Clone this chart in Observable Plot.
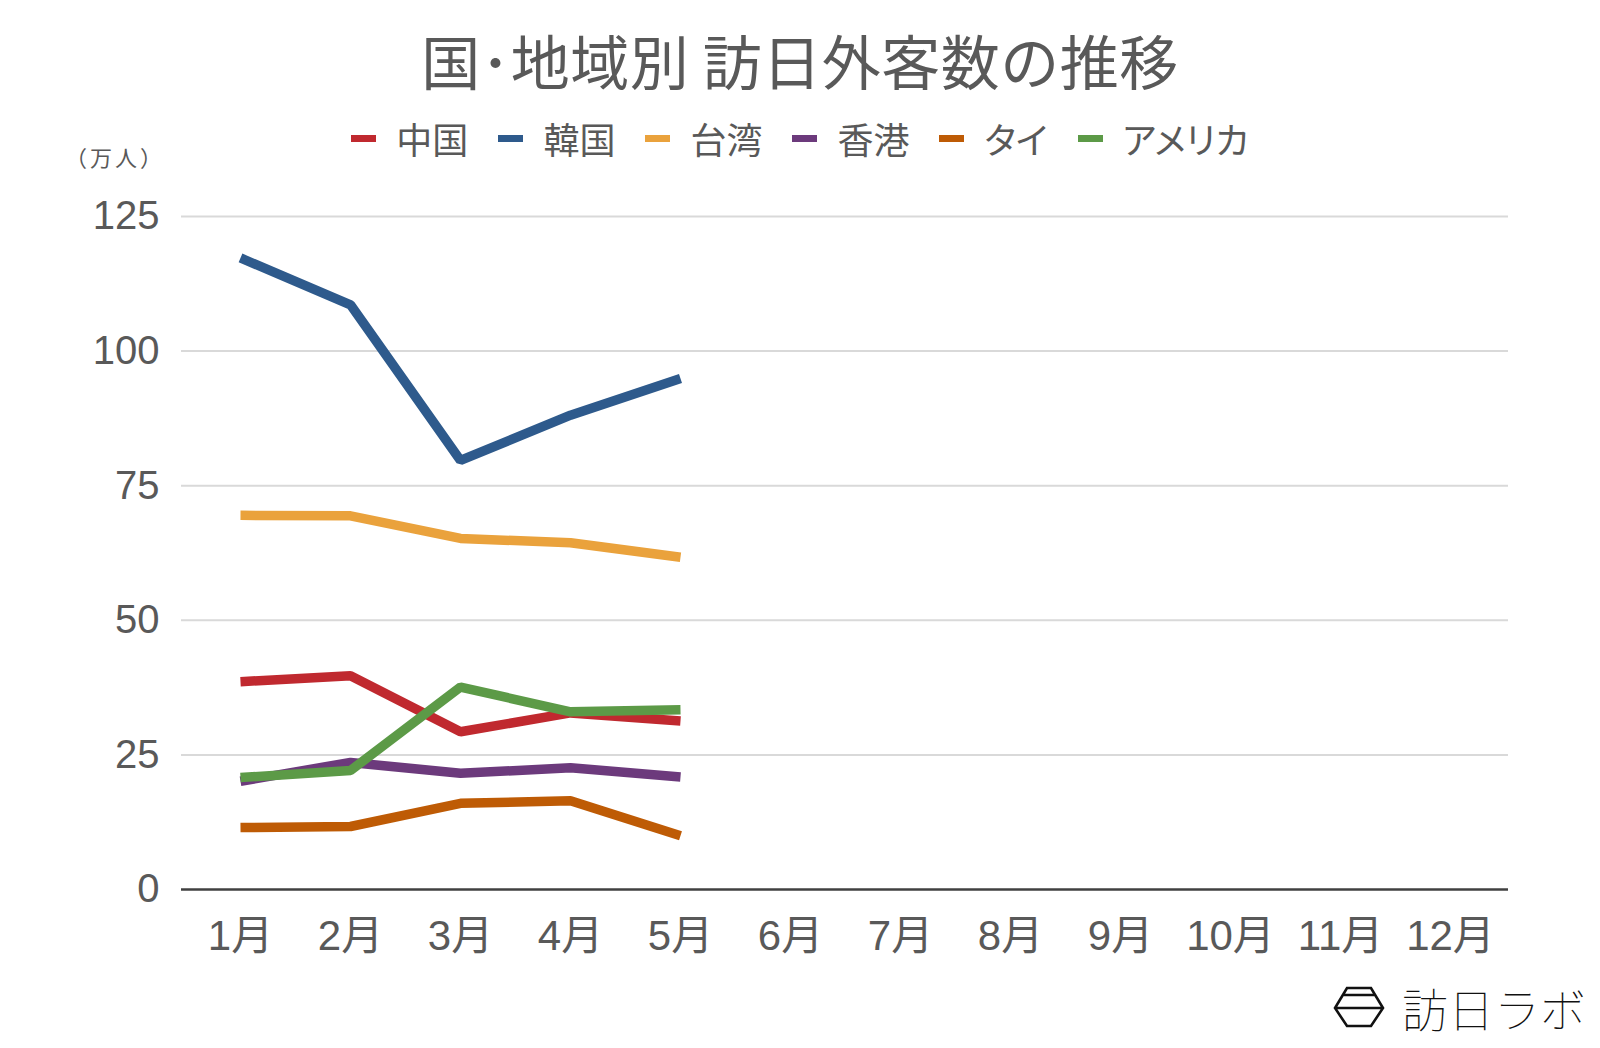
<!DOCTYPE html>
<html lang="ja">
<head>
<meta charset="utf-8">
<script src="https://cdn.jsdelivr.net/npm/d3@7"></script>
<script src="https://cdn.jsdelivr.net/npm/@observablehq/plot@0.6"></script>
<style>
  html, body { margin: 0; padding: 0; background: #fff; }
  #page { position: relative; width: 1600px; height: 1048px; overflow: hidden; background: #fff; }
  #title {
    position: absolute; left: 0; top: 0; width: 1600px; height: 120px; line-height: 120px;
    text-align: center; font-family: "Noto Sans CJK JP", sans-serif; font-size: 59px;
    color: #595959; letter-spacing: 0.5px;
  }
  #legend {
    position: absolute; left: 0; top: 114px; width: 1600px; height: 48px;
    display: flex; justify-content: center; align-items: center;
    font-family: "Noto Sans CJK JP", sans-serif; font-size: 36px; color: #595959;
    font-feature-settings: "palt";
  }
  .item { display: flex; align-items: center; margin: 0 15px; }
  .swatch { width: 25px; height: 7px; margin-right: 20px; }
  #unit {
    position: absolute; left: 65px; top: 140px; font-family: "Noto Sans CJK JP", sans-serif;
    font-size: 22px; color: #595959; letter-spacing: 3px;
  }
  #chart { position: absolute; left: 0; top: 160px; }
  #logo { position: absolute; left: 1333px; top: 984px; display: flex; align-items: center; }
  #logo span {
    font-family: "Noto Sans CJK JP Thin", "Noto Sans CJK JP Light", "Noto Sans CJK JP", sans-serif;
    font-weight: 100; font-size: 46px; color: #111; margin-left: 17px; line-height: 1;
  }
</style>
</head>
<body>
<div id="page">
  <div id="title">国･地域別 訪日外客数の推移</div>
  <div id="legend"></div>
  <div id="unit">（万人）</div>
  <div id="chart"></div>
  <div id="logo">
    <svg width="52" height="44" viewBox="0 0 52 44">
      <path d="M14 3 H38 L50 23 L38 41 H14 L2 23 Z M10 10 H42 M2 23 H50"
            fill="none" stroke="#111" stroke-width="2.6" stroke-linejoin="miter"/>
    </svg>
    <span>訪日ラボ</span>
  </div>
</div>
<script>
// Months along the x axis
const months = ["1月", "2月", "3月", "4月", "5月", "6月", "7月", "8月", "9月", "10月", "11月", "12月"];
// y axis ticks (万人)
const yTicks = [0, 25, 50, 75, 100, 125];

// Series names and colours, in drawing order
const seriesNames = ["中国", "韓国", "台湾", "香港", "タイ", "アメリカ"];
const seriesColors = ["#C0292F", "#2E5A8C", "#EAA23C", "#6C3A7C", "#BE5B05", "#5C9A47"];

// Monthly visitors (万人), January to May
const china = [38.6, 39.7, 29.3, 32.8, 31.3];
const korea = [117.3, 108.6, 79.7, 88.1, 94.9];
const taiwan = [69.5, 69.4, 65.2, 64.4, 61.7];
const hongkong = [20.1, 23.6, 21.6, 22.6, 20.9];
const thailand = [11.5, 11.7, 16.0, 16.5, 10.0];
const usa = [20.8, 22.1, 37.6, 33.0, 33.4];

const seriesValues = [china, korea, taiwan, hongkong, thailand, usa];

const rows = seriesValues.flatMap((vals, s) =>
  vals.map((v, i) => ({series: seriesNames[s], month: months[i], value: v}))
);

// Legend
const legend = document.getElementById("legend");
seriesNames.forEach((name, i) => {
  const item = document.createElement("div");
  item.className = "item";
  const sw = document.createElement("div");
  sw.className = "swatch";
  sw.style.background = seriesColors[i];
  const label = document.createElement("span");
  label.textContent = name;
  item.appendChild(sw);
  item.appendChild(label);
  legend.appendChild(item);
});

const chart = Plot.plot({
  width: 1600,
  height: 800,
  marginLeft: 181,
  marginRight: 92,
  marginTop: 56,
  marginBottom: 71,
  style: {fontFamily: "'Liberation Sans', 'Noto Sans CJK JP', sans-serif", color: "#595959", background: "transparent"},
  x: {type: "point", domain: months, padding: 0.5, label: null},
  y: {domain: [0, 125], label: null},
  color: {domain: seriesNames, range: seriesColors},
  marks: [
    Plot.gridY(yTicks.filter((d) => d > 0), {stroke: "#D9D9D9", strokeOpacity: 1, strokeWidth: 2}),
    Plot.ruleY([0], {stroke: "#404040", strokeWidth: 2.5}),
    Plot.axisY(yTicks, {tickSize: 0, tickPadding: 22, fontSize: 40, label: null}),
    Plot.axisX({tickSize: 0, tickPadding: 31, fontSize: 42, label: null}),
    Plot.line(rows, {
      x: "month", y: "value", z: "series", stroke: "series",
      strokeWidth: 9.5, strokeLinejoin: "miter", strokeLinecap: "butt"
    })
  ]
});
document.getElementById("chart").appendChild(chart);
</script>
</body>
</html>
